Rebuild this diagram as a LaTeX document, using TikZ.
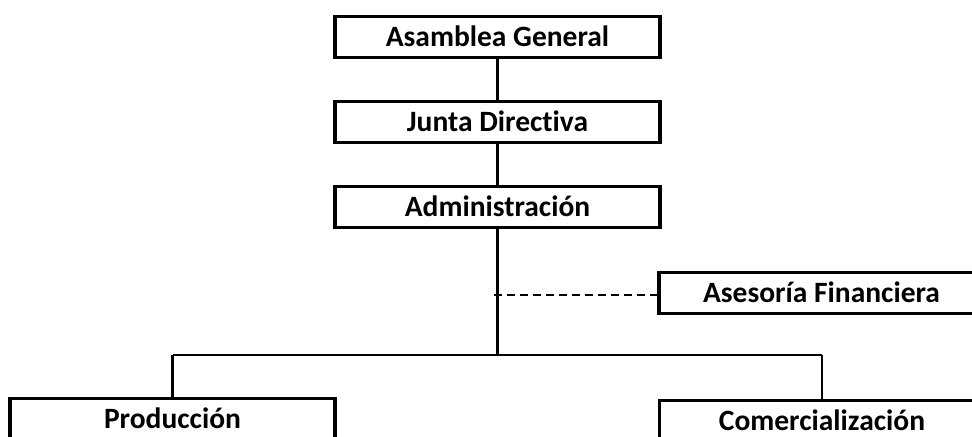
\documentclass[tikz,border=0pt]{standalone}
\usepackage{fontspec}
\setmainfont{Carlito}[Ligatures={NoCommon,NoRequired,NoContextual}]
\begin{document}
\begin{tikzpicture}[x=1bp,y=1bp,
  box/.style={draw, line width=3.5bp, minimum width=325bp, minimum height=41bp, inner sep=0pt,
    font=\fontsize{29.5bp}{34bp}\selectfont\bfseries, text height=21bp, text depth=1bp},
  conn/.style={line width=2.2bp},
  dashconn/.style={line width=2.2bp, dash pattern=on 8bp off 5bp}]
\useasboundingbox (0,0) rectangle (972,437);
\clip (0,0) rectangle (972,437);
\node[box] (ag) at (497.5,400) {Asamblea General};
\node[box] (jd) at (497.5,315) {Junta Directiva};
\node[box] (ad) at (497.5,230) {Administración};
\node[box] (af) at (821.5,144) {Asesoría Financiera};
\node[box] (pr) at (172.5,18) {Producción};
\node[box] (co) at (822,16) {Comercialización};
\coordinate (j) at (497.5,82);
\coordinate (jl) at (172.5,82);
\coordinate (jr) at (822,82);
\coordinate (ds) at (494,142);
\draw[conn] (ag) -- (jd);
\draw[conn] (jd) -- (ad);
\draw[conn] (ad.south) -- (j);
\draw[conn] (jl) -- (jr);
\draw[conn] (jl) -- (jl |- pr.north);
\draw[conn] (jr) -- (jr |- co.north);
\draw[dashconn] (ds) -- (ds -| af.west);
\end{tikzpicture}
\end{document}
